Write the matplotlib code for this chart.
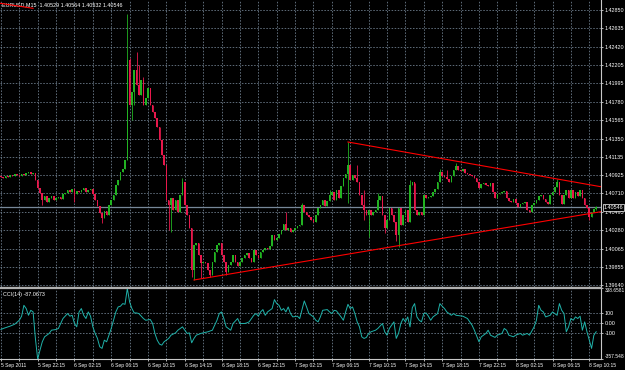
import numpy as np
import matplotlib
matplotlib.use('Agg')
import matplotlib.pyplot as plt
import matplotlib.transforms as mtransforms

# EURUSD M15 closes, one per bar
closes = [
    1.4090, 1.4089, 1.4091, 1.4090, 1.4092, 1.4091, 1.4094, 1.4092, 1.4091, 1.4094,
    1.4092, 1.4095, 1.4096, 1.4094, 1.4095, 1.4087, 1.4077, 1.4071, 1.4063, 1.4068,
    1.4061, 1.4066, 1.4068, 1.4063, 1.4066, 1.4067, 1.4064, 1.4070, 1.4071, 1.4075,
    1.4073, 1.4076, 1.4070, 1.4074, 1.4073, 1.4075, 1.4077, 1.4073, 1.4075, 1.4076,
    1.4070, 1.4063, 1.4056, 1.4048, 1.4042, 1.4051, 1.4046, 1.4057, 1.4063, 1.4069,
    1.4081, 1.4087, 1.4096, 1.4100, 1.4110, 1.4227, 1.4174, 1.4189, 1.4215, 1.4197,
    1.4186, 1.4203, 1.4174, 1.4182, 1.4194, 1.4174, 1.4166, 1.4159, 1.4149, 1.4133,
    1.4116, 1.4104, 1.4063, 1.4057, 1.4066, 1.4052, 1.4063, 1.4049, 1.4069, 1.4084,
    1.4057, 1.4046, 1.4031, 1.3982, 1.4011, 1.4013, 1.3999, 1.3990, 1.3991, 1.3990,
    1.3982, 1.3976, 1.3991, 1.4003, 1.4011, 1.4013, 1.3999, 1.3991, 1.3979, 1.3987,
    1.3991, 1.3999, 1.3991, 1.3986, 1.3991, 1.3996, 1.3999, 1.4001, 1.3996, 1.3991,
    1.4005, 1.3999, 1.3996, 1.4003, 1.4005, 1.4007, 1.4006, 1.4010, 1.4022, 1.4017,
    1.4019, 1.4024, 1.4028, 1.4035, 1.4028, 1.4031, 1.4026, 1.4028, 1.4031, 1.4033,
    1.4034, 1.4057, 1.4049, 1.4046, 1.4043, 1.4040, 1.4038, 1.4046, 1.4054, 1.4057,
    1.4063, 1.4056, 1.4062, 1.4069, 1.4073, 1.4063, 1.4075, 1.4066, 1.4080, 1.4089,
    1.4094, 1.4104, 1.4087, 1.4092, 1.4089, 1.4084, 1.4069, 1.4057, 1.4052, 1.4046,
    1.4052, 1.4046, 1.4049, 1.4052, 1.4063, 1.4068, 1.4046, 1.4031, 1.4040, 1.4054,
    1.4046, 1.4038, 1.4022, 1.4054, 1.4034, 1.4046, 1.4052, 1.4038, 1.4081, 1.4084,
    1.4052, 1.4046, 1.4049, 1.4046, 1.4069, 1.4066, 1.4067, 1.4068, 1.4073, 1.4076,
    1.4084, 1.4096, 1.4091, 1.4090, 1.4088, 1.4084, 1.4091, 1.4098, 1.4103, 1.4098,
    1.4097, 1.4099, 1.4095, 1.4094, 1.4092, 1.4091, 1.4089, 1.4084, 1.4077, 1.4082,
    1.4083, 1.4081, 1.4080, 1.4083, 1.4073, 1.4066, 1.4070, 1.4071, 1.4073, 1.4074,
    1.4066, 1.4062, 1.4061, 1.4064, 1.4060, 1.4055, 1.4059, 1.4060, 1.4061, 1.4052,
    1.4049, 1.4057, 1.4060, 1.4063, 1.4068, 1.4069, 1.4064, 1.4061, 1.4059, 1.4069,
    1.4073, 1.4078, 1.4084, 1.4069, 1.4059, 1.4069, 1.4075, 1.4066, 1.4075, 1.4066,
    1.4073, 1.4068, 1.4075, 1.4066, 1.4057, 1.4054, 1.4044, 1.4049, 1.40529, 1.40546,
]
first_open = 1.4091

# wicks that stick out of the bodies
wick_high = {55: 1.4280, 56: 1.4229, 59: 1.4236, 60: 1.4221, 62: 1.4207, 79: 1.4089,
             124: 1.4049, 131: 1.4060, 143: 1.4075, 151: 1.4131, 152: 1.4099, 155: 1.4104,
             158: 1.4075, 164: 1.4072, 178: 1.4087, 180: 1.4083, 191: 1.4100, 194: 1.4098,
             198: 1.4106, 242: 1.4088, 259: 1.40564}
wick_low = {18: 1.4057, 32: 1.4061, 44: 1.4036, 57: 1.4157, 58: 1.4174, 73: 1.4028,
            74: 1.4026, 83: 1.3973, 84: 1.3970, 87: 1.3972, 91: 1.3973, 98: 1.3976,
            151: 1.4060, 158: 1.4040, 160: 1.4020, 167: 1.4025, 172: 1.4015, 173: 1.4008,
            256: 1.4040, 259: 1.40520}

price_ticks = [1.42850, 1.42635, 1.42420, 1.42205, 1.41995, 1.41780, 1.41565, 1.41350,
               1.41135, 1.40925, 1.40710, 1.40495, 1.40280, 1.40065, 1.39855, 1.39640]
bid = 1.40546
header = 'EURUSD,M15  1.40529 1.40564 1.40532 1.40546'

# trend lines drawn on the chart (bar, price)
upper_line = ([151, 261.1], [1.4131, 1.40788])
lower_line = ([84, 261.1], [1.3970, 1.40497])
corner_line = ([-0.4, 14], [1.42929, 1.42870])

# CCI(14)
cci_bars = [0, 1, 3, 4, 6, 8, 9, 10, 11, 12, 13, 14, 15, 16, 17, 18, 19, 21, 22, 24, 25, 26, 27,
            29, 30, 31, 32, 33, 34, 35, 36, 37, 38, 39, 40, 41, 42, 43, 44, 45, 46, 47, 48, 49,
            50, 51, 52, 53, 54, 55, 56, 57, 58, 59, 60, 62, 63, 65, 66, 67, 68, 69, 70, 71, 73,
            74, 76, 77, 79, 80, 81, 82, 83, 84, 85, 87, 88, 90, 92, 94, 95, 96, 97, 98, 100,
            101, 103, 104, 106, 107, 108, 110, 111, 112, 113, 114, 115, 116, 118, 119, 120,
            121, 122, 123, 124, 125, 126, 127, 129, 130, 132, 133, 134, 136, 137, 138, 139,
            140, 142, 143, 144, 145, 146, 148, 149, 150, 151, 152, 153, 154, 155, 156, 157,
            158, 159, 160, 161, 163, 164, 166, 167, 168, 169, 171, 172, 173, 174, 175, 176,
            177, 178, 179, 180, 181, 182, 183, 184, 185, 186, 187, 188, 190, 191, 192, 193,
            194, 196, 197, 198, 201, 203, 205, 206, 208, 209, 211, 212, 213, 215, 216, 218,
            219, 220, 221, 223, 224, 226, 227, 229, 230, 232, 233, 234, 235, 236, 237, 239,
            240, 242, 243, 244, 245, 246, 247, 248, 249, 250, 251, 252, 253, 254, 255, 256,
            257, 258, 259]
cci_vals = [-65, -55, -39, -32, -13, 26, 66, 173, 141, 75, 124, 108, -153, -357.548, -268, -186,
            -137, -104, -72, -65, -55, -6, 43, 92, 66, 75, -6, -39, 108, 141, 75, 43, 108, 66,
            -39, -104, -153, -235, -251, -170, -186, -121, -55, 26, 108, 157, 164, 190, 183,
            338.6581, 206, 141, 98, 98, 92, 43, 26, 33, -6, -104, -170, -209, -219, -186, -153,
            -121, -98, -72, -39, -72, -104, -98, -196, -153, -121, -104, -98, -88, -72, 26, 92,
            108, 43, -39, -72, -6, 43, -6, -6, 0, 10, 75, 92, 66, 108, 131, 75, 108, 141, 229,
            190, 173, 124, 141, 108, 157, 92, 59, 66, 43, 216, 157, 92, 59, 26, 10, 59, 124,
            131, 108, 92, 124, 118, 59, 26, 108, 183, 141, 157, 92, 10, -39, -137, -153, -143,
            -104, -88, -72, -55, -6, -88, -121, -55, 10, -153, -104, -6, 43, 10, 59, -39, 150,
            190, 59, 26, 10, 92, 98, 66, 26, 59, 92, 190, 164, 141, 108, 75, 92, 75, 66, 43,
            -23, -72, -186, -137, -104, -72, -121, -143, -121, -104, -55, -72, -121, -137, -121,
            -104, -121, -104, -121, -39, 26, 173, 124, 108, 59, 75, 108, 75, 190, 124, 92, -88,
            -39, 43, 26, 59, 43, 66, -72, 10, -88, -170, -251, -121, -87.0673]
cci_max = 338.6581
cci_min = -357.548
cci_levels = [100, 0, -100]
cci_title = 'CCI(14) -87.0673'

time_ticks = list(range(0, 257, 16))
time_labels = ['5 Sep 2011', '5 Sep 22:15', '6 Sep 02:15', '6 Sep 06:15', '6 Sep 10:15',
               '6 Sep 14:15', '6 Sep 18:15', '6 Sep 22:15', '7 Sep 02:15', '7 Sep 06:15',
               '7 Sep 10:15', '7 Sep 14:15', '7 Sep 18:15', '7 Sep 22:15', '8 Sep 02:15',
               '8 Sep 06:15', '8 Sep 10:15']

bull = '#22b322'
bear = '#e8184c'
grid_c = '#778899'
fnt = 'Liberation Sans'

fig = plt.figure(figsize=(6.25, 3.7), dpi=100, facecolor='black')
ax = fig.add_axes([0, 83.5 / 370, 601 / 625, 286.5 / 370])
ax2 = fig.add_axes([0, 10.8 / 370, 601 / 625, 70.7 / 370])

xmin, xmax = -0.4, 261.1
for a in (ax, ax2):
    a.set_facecolor('black')
    a.set_xlim(xmin, xmax)
    for s in ('left', 'top'):
        a.spines[s].set_visible(False)
    a.spines['right'].set_color('#c8c8c8')
    a.spines['right'].set_linewidth(0.8)
    a.spines['bottom'].set_color('#c8c8c8')
    a.spines['bottom'].set_linewidth(0.8)
    a.set_xticks(range(0, 260, 8))
    a.grid(True, color=grid_c, linestyle=(0, (2, 2)), linewidth=0.55)
    a.set_axisbelow(True)

# candles
n = len(closes)
x = np.arange(n)
c = np.array(closes)
o = np.array([first_open] + closes[:-1])
hi = np.maximum(o, c)
lo = np.minimum(o, c)
for i, v in wick_high.items():
    hi[i] = v
for i, v in wick_low.items():
    lo[i] = v
cols = [bull if c[i] >= o[i] else bear for i in range(n)]
ax.vlines(x, lo, hi, colors=cols, linewidth=0.6, zorder=3)
body = np.maximum(np.abs(c - o), 0.00004)
ax.bar(x, body, bottom=np.minimum(o, c), width=0.7, color=cols, linewidth=0, zorder=4)

ax.axhline(bid, color=grid_c, linewidth=0.9, zorder=2)
for ln in (upper_line, lower_line, corner_line):
    ax.plot(ln[0], ln[1], color='#ff0000', linewidth=0.8, zorder=5)

ax.set_ylim(1.39624, 1.42967)
ax.yaxis.tick_right()
ax.set_yticks(price_ticks, ['%.5f' % p for p in price_ticks])
ax.tick_params(axis='y', colors='white', labelsize=3.9, length=1.5, width=0.5, pad=1)
ax.tick_params(axis='x', length=0, labelbottom=False)
for t in ax.get_yticklabels():
    t.set_fontfamily(fnt)

trans = mtransforms.blended_transform_factory(ax.transAxes, ax.transData)
ax.text(1.0045, bid, '%.5f' % bid, transform=trans, color='white', fontsize=3.9,
        family=fnt, va='center', ha='left', zorder=10,
        bbox=dict(boxstyle='square,pad=0.15', facecolor='black', edgecolor='white', linewidth=0.5))
ax.text(0.004, 0.993, header, transform=ax.transAxes, color='white', fontsize=3.9,
        family=fnt, va='top', ha='left')

# CCI panel
ax2.plot(cci_bars, cci_vals, color='#20b2aa', linewidth=0.7, zorder=3)
ax2.set_ylim(cci_min, cci_max)
ax2.yaxis.grid(False)
for lv in cci_levels:
    ax2.axhline(lv, color=grid_c, linestyle=(0, (2, 2)), linewidth=0.55, zorder=1)
ax2.yaxis.tick_right()
ax2.set_yticks([cci_max, 100, 0, -100, cci_min],
               ['338.6581', '100', '0.00', '-100', '-357.548'])
ax2.tick_params(axis='y', colors='white', labelsize=3.9, length=1.5, width=0.5, pad=1)
yl = ax2.get_yticklabels()
yl[0].set_va('top')
yl[0].set_fontsize(3.4)
yl[-1].set_va('bottom')
yl[-1].set_fontsize(3.6)
for t in yl:
    t.set_fontfamily(fnt)
ax2.text(0.005, 0.92, cci_title, transform=ax2.transAxes, color='white', fontsize=3.9,
         family=fnt, va='center', ha='left')

labs = []
for b in range(0, 260, 8):
    labs.append(time_labels[time_ticks.index(b)] if b in time_ticks else '')
ax2.set_xticks(range(0, 260, 8), labs)
ax2.tick_params(axis='x', colors='white', labelsize=3.6, length=1.5, width=0.5, pad=1.5)
for t in ax2.get_xticklabels():
    t.set_ha('left')
    t.set_fontfamily(fnt)

# separator between the panels
fig.add_artist(plt.Line2D([0, 601 / 625], [1 - 287.5 / 370] * 2, transform=fig.transFigure,
                          color='#b0b0b0', linewidth=1.6))

fig.savefig('out.png', dpi=100, facecolor='black')
